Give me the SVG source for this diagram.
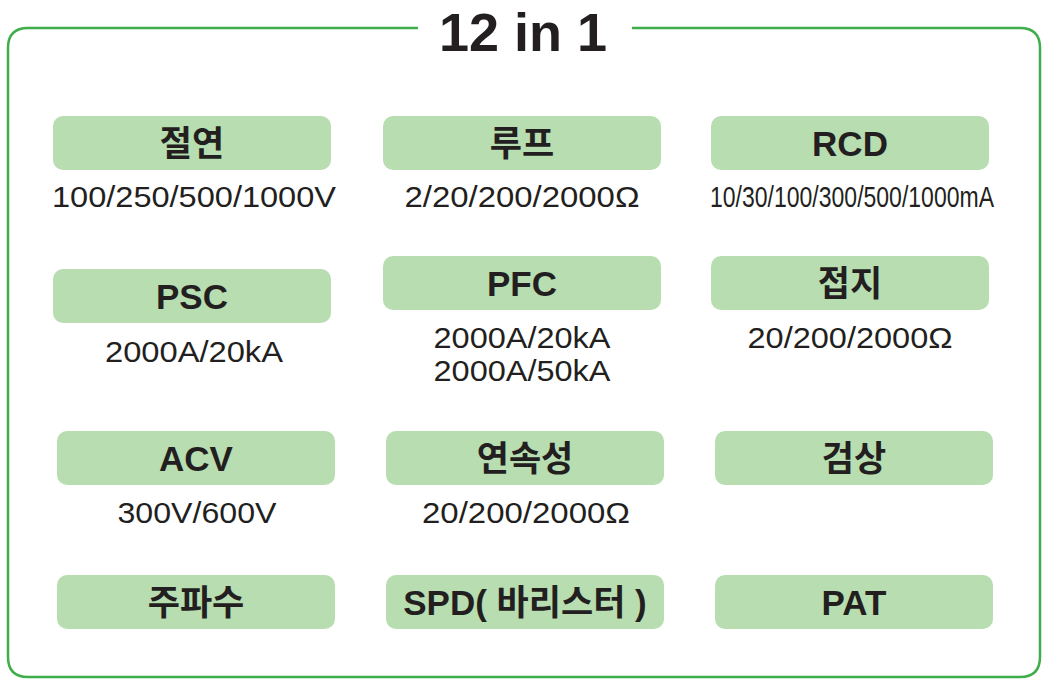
<svg xmlns="http://www.w3.org/2000/svg" width="1045" height="683" viewBox="0 0 1045 683">
<style>
.p{fill:#b7ddb0}
.t{font-family:"Liberation Sans","Noto Sans CJK KR",sans-serif;font-weight:bold;font-size:35px;fill:#231f20;text-anchor:middle}
.s{font-family:"Liberation Sans","Noto Sans CJK KR",sans-serif;font-size:29px;fill:#231f20;text-anchor:middle}
</style>
<rect width="1045" height="683" fill="#fff"/>
<path d="M418 28 H28 Q8 28 8 48 V657 Q8 677 28 677 H1020 Q1040 677 1040 657 V48 Q1040 28 1020 28 H632" fill="none" stroke="#3fae4a" stroke-width="2.5"/>
<text x="523" y="51" class="t" style="font-size:54px">12 in 1</text>
<g id="n1"><rect class="p" x="53" y="116" width="278" height="54" rx="10"/><text class="t" x="192" y="156">절연</text><text class="s" x="194" y="207" textLength="284" lengthAdjust="spacingAndGlyphs">100/250/500/1000V</text></g>
<g id="n2"><rect class="p" x="383" y="116" width="278" height="54" rx="10"/><text class="t" x="522" y="156">루프</text><text class="s" x="522" y="207" textLength="235" lengthAdjust="spacingAndGlyphs">2/20/200/2000Ω</text></g>
<g id="n3"><rect class="p" x="711" y="116" width="278" height="54" rx="10"/><text class="t" x="850" y="156">RCD</text><text class="s" x="852" y="207" textLength="284" lengthAdjust="spacingAndGlyphs">10/30/100/300/500/1000mA</text></g>
<g id="n4"><rect class="p" x="53" y="269" width="278" height="54" rx="10"/><text class="t" x="192" y="309">PSC</text><text class="s" x="194" y="362" textLength="178" lengthAdjust="spacingAndGlyphs">2000A/20kA</text></g>
<g id="n5"><rect class="p" x="383" y="256" width="278" height="54" rx="10"/><text class="t" x="522" y="296">PFC</text><text class="s" x="522" y="348" textLength="177" lengthAdjust="spacingAndGlyphs">2000A/20kA</text><text class="s" x="522" y="381" textLength="177" lengthAdjust="spacingAndGlyphs">2000A/50kA</text></g>
<g id="n6"><rect class="p" x="711" y="256" width="278" height="54" rx="10"/><text class="t" x="850" y="296">접지</text><text class="s" x="850" y="348" textLength="205" lengthAdjust="spacingAndGlyphs">20/200/2000Ω</text></g>
<g id="n7"><rect class="p" x="57" y="431" width="278" height="54" rx="10"/><text class="t" x="196" y="471">ACV</text><text class="s" x="197" y="523" textLength="159" lengthAdjust="spacingAndGlyphs">300V/600V</text></g>
<g id="n8"><rect class="p" x="386" y="431" width="278" height="54" rx="10"/><text class="t" x="525" y="471">연속성</text><text class="s" x="526" y="523" textLength="208" lengthAdjust="spacingAndGlyphs">20/200/2000Ω</text></g>
<g id="n9"><rect class="p" x="715" y="431" width="278" height="54" rx="10"/><text class="t" x="854" y="471">검상</text></g>
<g id="n10"><rect class="p" x="57" y="575" width="278" height="54" rx="10"/><text class="t" x="196" y="615">주파수</text></g>
<g id="n11"><rect class="p" x="386" y="575" width="278" height="54" rx="10"/><text class="t" x="525" y="615">SPD( 바리스터 )</text></g>
<g id="n12"><rect class="p" x="715" y="575" width="278" height="54" rx="10"/><text class="t" x="854" y="615">PAT</text></g>
<g id="connectors"/>
</svg>
